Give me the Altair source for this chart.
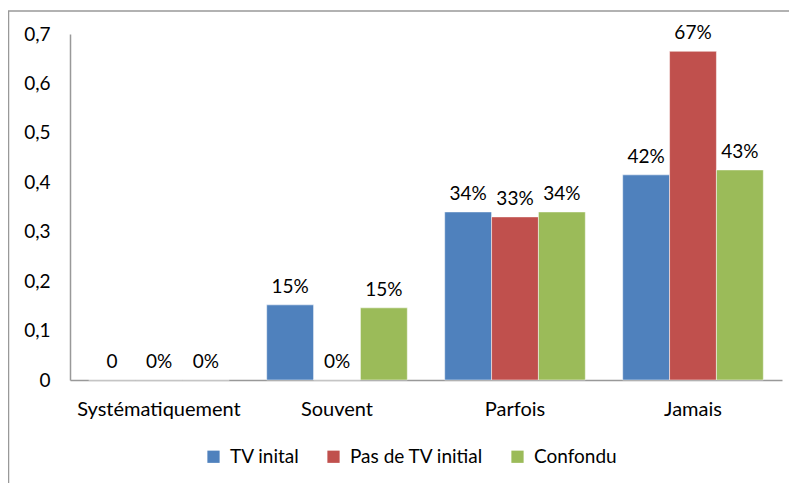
import altair as alt
import pandas as pd

categories = ["Systématiquement", "Souvent", "Parfois", "Jamais"]
series = ["TV inital", "Pas de TV initial", "Confondu"]
tv_initial = [0.0, 0.152, 0.34, 0.415]
pas_tv = [0.0, 0.0, 0.33, 0.665]
confondu = [0.0, 0.146, 0.34, 0.425]
labels_tv = ["0", "15%", "34%", "42%"]
labels_pas = ["0%", "0%", "33%", "67%"]
labels_conf = ["0%", "15%", "34%", "43%"]
colors = ["#4F81BD", "#C0504D", "#9BBB59"]

rows = []
for vals, labs, s in [(tv_initial, labels_tv, series[0]), (pas_tv, labels_pas, series[1]), (confondu, labels_conf, series[2])]:
    for c, v, l in zip(categories, vals, labs):
        rows.append({"cat": c, "serie": s, "value": v, "label": l})
df = pd.DataFrame(rows)

FONT = "Lato"
FS = 20

x = alt.X("cat:N", sort=categories, title=None,
          scale=alt.Scale(paddingInner=0.21, paddingOuter=0.105),
          axis=alt.Axis(labelAngle=0, labelFontSize=FS, labelFont=FONT, labelColor="black",
                        labelPadding=19, ticks=False, domainColor="#999999", domainWidth=1.5))
xo = alt.XOffset("serie:N", sort=series, scale=alt.Scale(paddingInner=0, paddingOuter=0))
y = alt.Y("value:Q", title=None,
          scale=alt.Scale(domain=[0, 0.7], nice=False),
          axis=alt.Axis(values=[0, 0.1, 0.2, 0.3, 0.4, 0.5, 0.6, 0.7], grid=False, ticks=False,
                        labelExpr="datum.value == 0 ? '0' : replace(format(datum.value, '.1f'), '.', ',')",
                        labelFontSize=19, labelFont=FONT, labelColor="black", labelPadding=20,
                        domainColor="#999999", domainWidth=1.5))

bars = alt.Chart(df).mark_bar(stroke="white", strokeWidth=0.5).encode(
    x=x, xOffset=xo, y=y,
    color=alt.Color("serie:N", sort=series, scale=alt.Scale(domain=series, range=colors),
                    legend=alt.Legend(title=None, orient="none", direction="horizontal",
                                      legendX=134, legendY=413, symbolType="square",
                                      symbolSize=150, symbolStrokeWidth=0, labelFontSize=19,
                                      labelFont=FONT, labelColor="black", labelOffset=7,
                                      columnPadding=24)),
)

text = alt.Chart(df).mark_text(baseline="bottom", dy=-8, fontSize=19, font=FONT, color="black").encode(
    x=x, xOffset=xo, y=y, text="label:N"
)

frame = alt.Chart(pd.DataFrame({"a": [0]})).mark_rect(fill=None, stroke="#999999", strokeWidth=1.5).encode(
    x=alt.value(-61.5), x2=alt.value(760), y=alt.value(-23), y2=alt.value(480)
)

chart = alt.layer(frame, bars, text).properties(
    width=712, height=346,
    padding={"left": 62, "top": 26, "right": 7, "bottom": 103},
    autosize=alt.AutoSizeParams(type="none"),
).configure_view(stroke=None)

chart.save("out.html", embed_options={"renderer": "svg", "actions": False})
